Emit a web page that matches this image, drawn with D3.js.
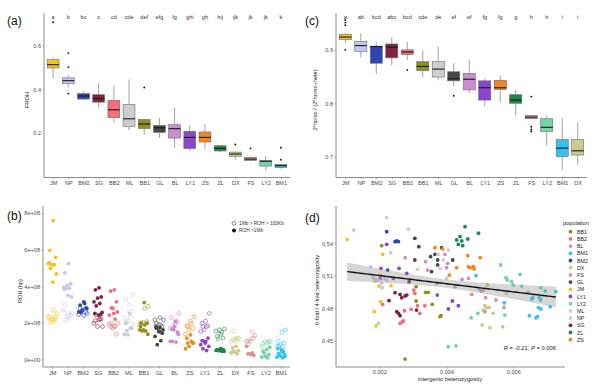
<!DOCTYPE html>
<html><head><meta charset="utf-8">
<script src="https://cdn.jsdelivr.net/npm/d3@7"></script>
<style>body{margin:0;background:#fff} svg text{font-family:"Liberation Sans",Arial,sans-serif}</style>
</head><body><svg id="c" width="600" height="390"></svg>
<script>
// ---------- Panel (a): FROH boxplots ----------
const popsA = ["JM","NP","BM2","SG","BB2","ML","BB1","GL","BL","LY1","ZS","ZL","DX","FS","LY2","BM1"];
const lettersA = ["a","b","bc","c","cd","cde","def","efg","fg","ghi","gh","hij","ijk","jk","jk","k"];
const aLow  = [.452,.407,.352,.316,.247,.212,.192,.177,.133,.118,.125,.113,.078,.070,.030,.037];
const aQ1   = [.497,.425,.355,.341,.270,.230,.220,.203,.177,.129,.159,.118,.094,.074,.049,.042];
const aMed  = [.512,.439,.369,.357,.306,.265,.241,.224,.220,.180,.180,.130,.104,.081,.071,.051];
const aQ3   = [.535,.452,.380,.375,.349,.331,.262,.235,.238,.208,.205,.142,.113,.089,.075,.057];
const aHigh = [.544,.463,.390,.428,.417,.445,.265,.270,.316,.232,.240,.145,.116,.094,.095,.060];
const aOut  = [[.706],[.565,.501,.380],[],[],[],[],[.408],[],[],[],[],[],[.148],[.130],[],[.133,.078]];
const aTicks = [0.2,0.4,0.6];

// ---------- Panel (c): 2*homo/(2*homo+hete) boxplots ----------
const popsC = ["JM","NP","BM2","SG","BB2","BB1","ML","GL","BL","LY1","ZS","ZL","FS","LY2","BM1","DX"];
const lettersC = ["a","ab","bcd","abc","bcd","cde","de","ef","ef","fg","fg","g","h","h","i","i"];
const cLow  = [.9125,.886,.855,.871,.881,.849,.843,.832,.819,.795,.802,.777,.770,.721,.675,.685];
const cQ1   = [.919,.897,.875,.885,.891,.861,.849,.842,.825,.806,.826,.800,.771,.747,.700,.703];
const cMed  = [.924,.908,.906,.905,.896,.869,.864,.846,.845,.829,.829,.806,.774,.755,.716,.711];
const cQ3   = [.929,.916,.907,.911,.900,.878,.878,.859,.856,.842,.843,.816,.777,.771,.732,.732];
const cHigh = [.932,.931,.914,.923,.915,.899,.906,.875,.882,.846,.852,.825,.778,.777,.772,.764];
const cOut  = [[.900,.946,.951,.956],[],[],[],[.8625],[],[],[.814],[],[],[],[],[.8125,.756,.751,.747],[],[],[]];
const cTicks = [0.7,0.8,0.9];

// ---------- Panel (b): ROH length per individual (bp) ----------
const popsB = ["JM","NP","BM2","SG","BB2","ML","BB1","GL","BL","ZS","LY1","ZL","DX","FS","LY2","BM1"];
const rohLong = [
 [7.59e8,5.97e8,5.58e8,5.18e8,5.25e8,5.18e8,4.98e8,4.68e8,4.23e8,5.30e8],
 [5.25e8,4.73e8,4.14e8,4.05e8,3.96e8,3.90e8,3.90e8,3.42e8,3.50e8,3.83e8],
 [3.15e8,2.97e8,2.82e8,2.70e8,2.60e8,3.06e8,2.57e8,2.79e8],
 [3.92e8,3.81e8,3.42e8,3.36e8,3.15e8,3.06e8,2.93e8,2.57e8,2.43e8,2.52e8,2.46e8],
 [3.81e8,3.74e8,3.15e8,2.79e8,2.43e8,2.21e8,2.82e8,2.60e8,2.52e8],
 [2.52e8,1.98e8,1.71e8,1.35e8,1.38e8,1.71e8,1.58e8],
 [1.89e8,1.98e8,1.98e8,1.62e8,1.62e8,1.56e8,1.56e8,1.38e8,3.11e8,1.80e8],
 [1.74e8,1.71e8,1.44e8,1.53e8,1.26e8,1.03e8,0.81e8,1.62e8,1.53e8,1.80e8],
 [2.07e8,1.67e8,1.49e8,1.62e8,0.99e8,0.95e8,0.99e8,1.38e8,1.80e8],
 [1.35e8,1.17e8,0.90e8,0.72e8,0.59e8,0.99e8,0.90e8,0.90e8],
 [0.99e8,1.03e8,1.17e8,0.99e8,0.81e8,0.49e8,0.59e8,0.72e8,0.90e8],
 [0.59e8,0.54e8,0.54e8,0.50e8,0.50e8,0.45e8,0.49e8,0.45e8,0.59e8],
 [0.72e8,0.63e8,0.49e8,0.41e8,0.36e8,0.31e8,0.45e8],
 [0.27e8,0.31e8,0.23e8,0.31e8,0.72e8,0.36e8],
 [0.54e8,0.45e8,0.27e8,0.18e8,0.13e8,0.09e8,0.36e8,0.67e8],
 [0.45e8,0.31e8,0.27e8,0.18e8,0.13e8,0.09e8,0.31e8,0.18e8,0.54e8,0.59e8,0.41e8]
];
const rohShort = [
 [2.52e8,2.70e8,2.34e8,2.21e8,2.16e8,2.29e8,2.07e8,2.03e8,2.34e8,2.25e8],
 [2.52e8,2.52e8,3.00e8,2.43e8,2.34e8,2.70e8,2.25e8,2.16e8],
 [2.52e8,2.39e8,2.79e8,2.60e8,2.70e8,2.46e8],
 [1.80e8,2.16e8,2.12e8,2.21e8,1.80e8,1.98e8,2.21e8,2.43e8],
 [1.98e8,1.80e8,1.80e8,1.38e8,1.71e8,1.92e8,1.80e8,1.98e8],
 [3.56e8,3.00e8,3.29e8,2.64e8,2.10e8,2.25e8,2.34e8,2.03e8,1.89e8],
 [2.91e8,2.79e8,2.01e8,2.07e8,2.01e8,1.89e8],
 [2.16e8,2.29e8,1.98e8,1.80e8,1.92e8,2.16e8,1.89e8,1.74e8],
 [2.52e8,1.98e8,2.29e8,2.07e8,1.80e8,1.71e8,2.10e8],
 [2.34e8,2.10e8,1.85e8,1.71e8,1.62e8,1.38e8,1.98e8,1.80e8],
 [2.52e8,2.10e8,1.98e8,1.85e8,1.62e8,1.53e8,1.80e8,1.80e8],
 [1.67e8,1.38e8,1.26e8,1.17e8,1.62e8,1.56e8,1.49e8,1.13e8],
 [1.13e8,1.17e8,1.08e8,1.17e8,1.08e8,0.99e8,0.99e8,1.56e8],
 [1.31e8,1.13e8,1.03e8,1.17e8,0.99e8,0.99e8,1.49e8,0.85e8],
 [0.99e8,0.90e8,0.85e8,0.95e8,0.99e8,0.72e8],
 [1.62e8,1.49e8,0.99e8,0.90e8,0.81e8,0.72e8,0.63e8,0.72e8]
];
const bTicks = [0,2e8,4e8,6e8,8e8];
const bLegend = ["1Mb > ROH > 100Kb","ROH >1Mb"];

// ---------- Panel (d): heterozygosity scatter ----------
const popsD = ["BB1","BB2","BL","BM1","BM2","DX","FS","GL","JM","LY1","LY2","ML","NP","SG","ZL","ZS"];
const dInter = [
 [0.00207,0.0031,0.00338,0.00346,0.0031,0.00358,0.00381,0.00384,0.00277],
 [0.00303,0.00306,0.0021,0.00314,0.00336,0.00295,0.00275,0.00321,0.00272,0.00269,0.00262],
 [0.00277,0.00338,0.00396,0.00404,0.00344,0.00401,0.00371,0.00447,0.00466],
 [0.00489,0.00499,0.00573,0.00648,0.00658,0.00655,0.00678,0.00682,0.00695,0.00727,0.00675,0.00682,0.00668,0.00672,0.0071],
 [0.00222,0.00247,0.00252,0.00257,0.00225],
 [0.00522,0.0058,0.00515,0.0052,0.00528,0.0051,0.0054,0.00507,0.0053,0.00568],
 [0.00426,0.00476,0.00505,0.0051,0.00517,0.00548,0.00572,0.00515],
 [0.00306,0.00318,0.00306,0.00353,0.00366,0.00374,0.00386,0.00419,0.00356,0.00374],
 [0.00104,0.0021,0.00187,0.00199,0.00235,0.00204,0.00185,0.0019,0.00202],
 [0.00222,0.00205,0.00259,0.00282,0.00202,0.00242,0.00373,0.00418,0.00436,0.00406],
 [0.00562,0.00578,0.00582,0.0062,0.00595,0.006,0.00625,0.00645,0.00682,0.00494,0.00474,0.00575,0.00429,0.00406],
 [0.00222,0.00287,0.00234,0.00314,0.00376,0.00391,0.00381,0.00401,0.00406],
 [0.00124,0.00174,0.00182,0.00187,0.00197,0.00217,0.00222,0.00207,0.00209,0.00197],
 [0.00289,0.00229,0.00247,0.00262,0.00267,0.00277,0.00282,0.00311,0.00257,0.00262,0.00252],
 [0.00456,0.00431,0.00441,0.00446,0.00436,0.00449,0.00464,0.00496],
 [0.00366,0.00389,0.00464,0.00501,0.00431,0.00466,0.00471,0.00481,0.00483,0.00409]
];
const dRatio = [
 [0.5378,0.4999,0.4947,0.4947,0.4867,0.4836,0.4722,0.4731,0.4330],
 [0.4968,0.4937,0.4836,0.4823,0.4823,0.4789,0.4777,0.4753,0.4682,0.4675,0.4660],
 [0.5267,0.5230,0.5298,0.5215,0.5153,0.5175,0.5030,0.5067,0.5076],
 [0.5101,0.4978,0.4851,0.4731,0.4897,0.4885,0.4897,0.4876,0.4959,0.4953,0.4805,0.4793,0.4712,0.4722,0.4814],
 [0.5508,0.5415,0.5422,0.5415,0.5153],
 [0.5015,0.4937,0.4823,0.4805,0.4808,0.4783,0.4753,0.4645,0.4620,0.4629],
 [0.4999,0.4928,0.4959,0.4968,0.4897,0.4876,0.4808,0.4768],
 [0.5446,0.5369,0.5246,0.5277,0.5298,0.5246,0.5360,0.5246,0.5138,0.5200],
 [0.5437,0.5298,0.5052,0.5005,0.5008,0.4860,0.4768,0.4635,0.5107],
 [0.5391,0.5169,0.5169,0.5122,0.5076,0.5076,0.4922,0.4867,0.4823,0.4793],
 [0.5200,0.5082,0.5061,0.5113,0.5045,0.5015,0.5005,0.4947,0.4990,0.4753,0.4712,0.4737,0.4453,0.4444],
 [0.5637,0.5530,0.5314,0.5160,0.5298,0.5246,0.5169,0.5076,0.5338],
 [0.5523,0.5184,0.5082,0.5067,0.5061,0.5076,0.5061,0.5030,0.4990,0.4660],
 [0.5045,0.4870,0.4944,0.4928,0.4897,0.4913,0.4922,0.4783,0.4753,0.4731,0.4768],
 [0.5554,0.5431,0.5462,0.5422,0.5391,0.5378,0.5440,0.5493],
 [0.5360,0.5348,0.5286,0.5267,0.5175,0.5184,0.5175,0.5184,0.5163,0.5107]
];
const dXTicks = [0.002,0.004,0.006];
const dYTicks = [0.45,0.48,0.51,0.54];
const statText = {r:"-0.21", p:"0.006"};

// ---------- styles ----------
const popColor = {JM:"#F7C21E",NP:"#C4C7F3",BM2:"#2F45B5",SG:"#7E2440",BB2:"#F26E7A",ML:"#CDCDCD",
  BB1:"#8F8F1E",GL:"#474747",BL:"#CC8DCC",LY1:"#8B45CC",ZS:"#F6841F",ZL:"#1B8A4B",DX:"#CBCB8E",
  FS:"#DA9292",LY2:"#72D5A3",BM1:"#36C2EF"};
const FONT = '"Liberation Sans",Arial,sans-serif';
const AX = "#8c8c8c", TXT = "#4d4d4d";
const svg = d3.select("#c");
svg.append("rect").attr("width",600).attr("height",390).attr("fill","#fff");

function styleAxis(g){
  g.attr("font-family",FONT).attr("font-size",5.6);
  g.select(".domain").attr("stroke",AX).attr("stroke-width",1);
  g.selectAll(".tick line").attr("stroke",AX).attr("stroke-width",0.6);
  g.selectAll(".tick text").attr("fill",TXT);
}
function label(x,y,t,opt={}){
  const el = svg.append("text").attr("x",x).attr("y",y).text(t)
    .attr("font-family",FONT).attr("font-size",opt.size||6).attr("fill",opt.fill||"#222")
    .attr("text-anchor",opt.anchor||"middle");
  if(opt.rot) el.attr("transform",`rotate(-90,${x},${y})`);
  return el;
}

function boxPanel(pops,letters,lo,q1,md,q3,hi,outs,ticks,xr,yDom,yr,tickFmt){
  const x = d3.scalePoint().domain(pops).range(xr).padding(0.6);
  const y = d3.scaleLinear().domain(yDom).range(yr);
  const bw = x.step()*0.78;
  const g = svg.append("g");
  pops.forEach((p,i)=>{
    const cx = x(p);
    g.append("line").attr("x1",cx).attr("x2",cx).attr("y1",y(hi[i])).attr("y2",y(q3[i])).attr("stroke","#8a8a8a").attr("stroke-width",0.8);
    g.append("line").attr("x1",cx).attr("x2",cx).attr("y1",y(q1[i])).attr("y2",y(lo[i])).attr("stroke","#8a8a8a").attr("stroke-width",0.8);
    g.append("rect").attr("x",cx-bw/2).attr("width",bw).attr("y",y(q3[i])).attr("height",Math.max(0.5,y(q1[i])-y(q3[i])))
      .attr("fill",popColor[p]).attr("stroke","#6e6e6e").attr("stroke-width",0.6);
    g.append("line").attr("x1",cx-bw/2).attr("x2",cx+bw/2).attr("y1",y(md[i])).attr("y2",y(md[i])).attr("stroke","#1a1a1a").attr("stroke-width",1.1);
    outs[i].forEach(v=>g.append("circle").attr("cx",cx).attr("cy",y(v)).attr("r",0.95).attr("fill","#111"));
    label(cx,19,letters[i],{size:5.6,fill:"#333"});
  });
  const ya = svg.append("g").attr("transform",`translate(${xr[0]},0)`)
    .call(d3.axisLeft(y).tickValues(ticks).tickSize(1.8).tickSizeOuter(0).tickPadding(1.2).tickFormat(tickFmt));
  styleAxis(ya);
  const xa = svg.append("g").attr("transform",`translate(0,${yr[0]})`)
    .call(d3.axisBottom(x).tickSize(1.8).tickSizeOuter(0).tickPadding(2));
  styleAxis(xa);
  xa.select(".domain").attr("d",`M${xr[0]},0H${xr[1]}`);
  ya.select(".domain").attr("d",`M0,${yr[0]}V${yr[1]}`);
  return {x,y};
}

// Panel (a)
boxPanel(popsA,lettersA,aLow,aQ1,aMed,aQ3,aHigh,aOut,aTicks,[44,290],[-0.003,0.748],[177.5,13],d3.format(".1f"));
label(7,25,"(a)",{size:12,anchor:"start",fill:"#111"});
label(29,100,"FROH",{size:5.8,rot:true});

// Panel (c)
boxPanel(popsC,lettersC,cLow,cQ1,cMed,cQ3,cHigh,cOut,cTicks,[336,587],[0.661,0.969],[177.5,13],d3.format(".1f"));
label(305,25,"(c)",{size:12,anchor:"start",fill:"#111"});
label(317,100,"2*homo / (2*homo+hete)",{size:5.6,rot:true});

// Panel (b)
{
  const x = d3.scalePoint().domain(popsB).range([43,290]).padding(0.6);
  const y = d3.scaleLinear().domain([-0.41e8,8.39e8]).range([367,206]);
  const g = svg.append("g");
  const jit = (i,k)=>((((i+1)*0.6180339+k*0.37)%1)-0.5)*0.62*x.step();
  popsB.forEach((p,pi)=>{
    rohShort[pi].forEach((v,i)=>g.append("circle").attr("cx",x(p)+jit(i,1)).attr("cy",y(v)).attr("r",1.9)
      .attr("fill","none").attr("stroke",popColor[p]).attr("stroke-opacity",0.75).attr("stroke-width",0.8));
  });
  popsB.forEach((p,pi)=>{
    rohLong[pi].forEach((v,i)=>g.append("circle").attr("cx",x(p)+jit(i,0)).attr("cy",y(v)).attr("r",1.9)
      .attr("fill",popColor[p]));
  });
  const fmt = v => v===0 ? "0e+00" : (v/1e8)+"e+08";
  const ya = svg.append("g").attr("transform","translate(43,0)")
    .call(d3.axisLeft(y).tickValues(bTicks).tickSize(1.8).tickSizeOuter(0).tickPadding(1.2).tickFormat(fmt));
  styleAxis(ya); ya.select(".domain").attr("d","M0,367V206");
  const xa = svg.append("g").attr("transform","translate(0,367)")
    .call(d3.axisBottom(x).tickSize(1.8).tickSizeOuter(0).tickPadding(2));
  styleAxis(xa); xa.select(".domain").attr("d","M43,0H290");
  // legend
  svg.append("circle").attr("cx",234).attr("cy",223.5).attr("r",1.9).attr("fill","none").attr("stroke","#555").attr("stroke-width",0.7);
  svg.append("circle").attr("cx",234).attr("cy",230.5).attr("r",1.9).attr("fill","#111");
  label(239,225.3,bLegend[0],{size:4.8,anchor:"start",fill:"#333"});
  label(239,232.3,bLegend[1],{size:4.8,anchor:"start",fill:"#333"});
  label(7,220,"(b)",{size:12,anchor:"start",fill:"#111"});
  label(22,291,"ROH (bp)",{size:5.6,rot:true});
}

// Panel (d)
{
  const x = d3.scaleLinear().domain([0.000707,0.007543]).range([336,565]);
  const y = d3.scaleLinear().domain([0.4257,0.5745]).range([367,206]);
  // regression (least squares) + 95% CI from points
  const pts = [];
  popsD.forEach((p,pi)=>dInter[pi].forEach((v,i)=>pts.push([v,dRatio[pi][i]])));
  const n = pts.length, mx = d3.mean(pts,d=>d[0]), my = d3.mean(pts,d=>d[1]);
  const sxx = d3.sum(pts,d=>(d[0]-mx)**2), sxy = d3.sum(pts,d=>(d[0]-mx)*(d[1]-my));
  const b = sxy/sxx, a = my-b*mx;
  const s = Math.sqrt(d3.sum(pts,d=>(d[1]-a-b*d[0])**2)/(n-2));
  const [x0,x1] = d3.extent(pts,d=>d[0]);
  const grid = d3.range(0,81).map(k=>x0+(x1-x0)*k/80);
  const band = grid.map(xv=>{const f=a+b*xv, e=1.976*s*Math.sqrt(1/n+(xv-mx)**2/sxx); return [xv,f-e,f+e];});
  const g = svg.append("g");
  popsD.forEach((p,pi)=>dInter[pi].forEach((v,i)=>g.append("circle").attr("cx",x(v)).attr("cy",y(dRatio[pi][i])).attr("r",1.9).attr("fill",popColor[p])));
  g.append("path").datum(band).attr("d",d3.area().x(d=>x(d[0])).y0(d=>y(d[1])).y1(d=>y(d[2])))
    .attr("fill","#999").attr("fill-opacity",0.4);
  g.append("path").datum(grid).attr("d",d3.line().x(d=>x(d)).y(d=>y(a+b*d)))
    .attr("fill","none").attr("stroke","#111").attr("stroke-width",1.4);
  const ya = svg.append("g").attr("transform","translate(336,0)")
    .call(d3.axisLeft(y).tickValues(dYTicks).tickSize(1.8).tickSizeOuter(0).tickPadding(1.2).tickFormat(d3.format(".2f")));
  styleAxis(ya); ya.select(".domain").attr("d","M0,367V206");
  const xa = svg.append("g").attr("transform","translate(0,367)")
    .call(d3.axisBottom(x).tickValues(dXTicks).tickSize(1.8).tickSizeOuter(0).tickPadding(1.5).tickFormat(d3.format(".3f")));
  styleAxis(xa); xa.select(".domain").attr("d","M336,0H565");
  const st = svg.append("text").attr("x",556).attr("y",350).attr("text-anchor","end")
    .attr("font-family",FONT).attr("font-size",5.8).attr("fill","#222");
  st.append("tspan").attr("font-style","italic").text("R");
  st.append("tspan").text(" = "+statText.r+", ");
  st.append("tspan").attr("font-style","italic").text("P");
  st.append("tspan").text(" = "+statText.p);
  label(305,222,"(d)",{size:12,anchor:"start",fill:"#111"});
  label(319,290,"0-fold / 4-fold heterozygosity",{size:5.6,rot:true});
  label(450,381,"intergenic heterozygosity",{size:5.8});
  // legend
  label(563,225,"population",{size:5.6,anchor:"start",fill:"#222"});
  popsD.forEach((p,i)=>{
    svg.append("circle").attr("cx",570.5).attr("cy",231.7+i*7.2).attr("r",1.9).attr("fill",popColor[p]);
    label(577,233.7+i*7.2,p,{size:5.3,anchor:"start",fill:"#222"});
  });
}
</script></body></html>
